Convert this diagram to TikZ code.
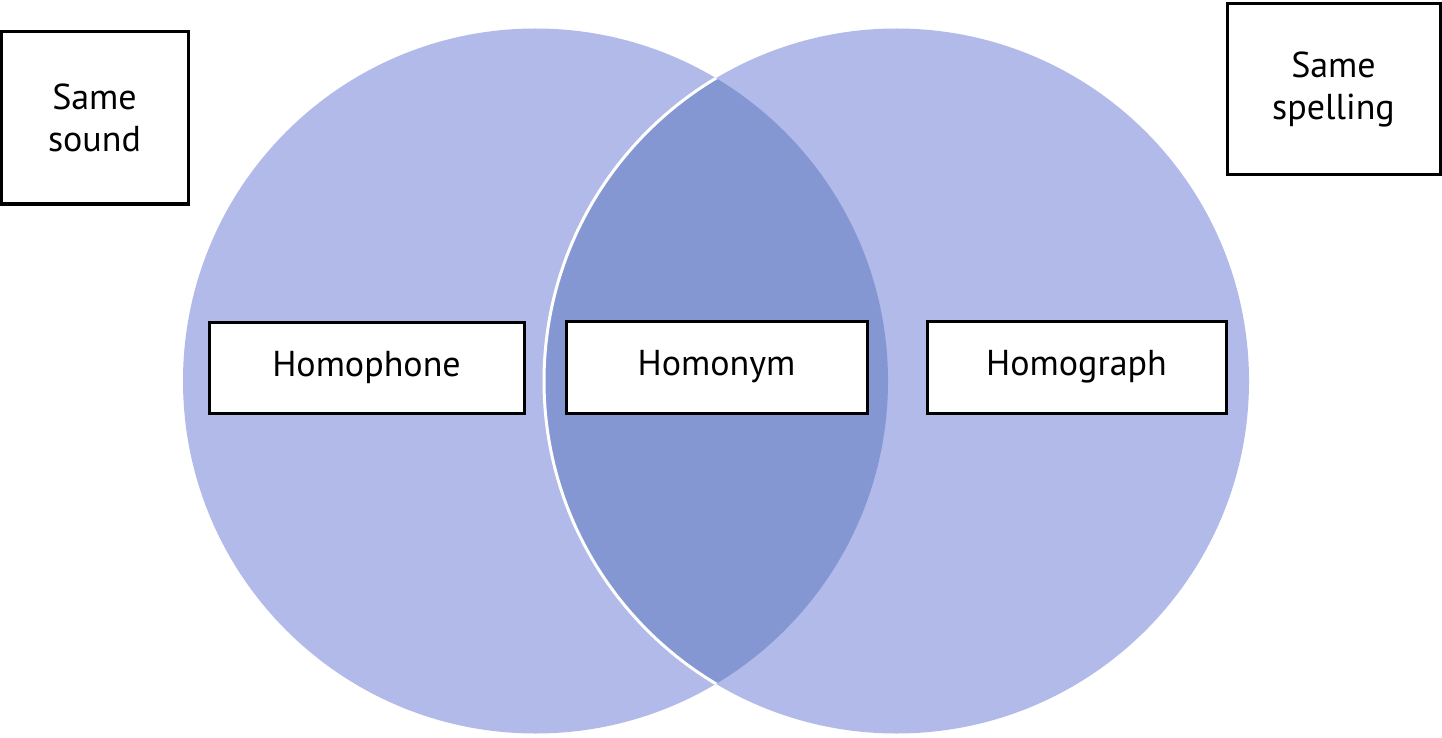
\documentclass[tikz,border=0pt]{standalone}
\usepackage{fontspec}
\setmainfont{PT Sans}
\definecolor{lightfill}{RGB}{177,186,232}
\definecolor{darkfill}{RGB}{133,151,211}
\tikzset{
  labelbox/.style={draw=black, line width=3pt, fill=white, inner sep=0pt,
    font=\fontsize{36}{42}\selectfont, align=center}
}
\begin{document}
\begin{tikzpicture}[x=1pt,y=-1pt]
\useasboundingbox (0,0) rectangle (1442,738);
% circles
\fill[lightfill] (535.5,381) circle (352.5pt);
\fill[lightfill] (896.5,381) circle (352.5pt);
\begin{scope}
  \clip (535.5,381) circle (352.5pt);
  \fill[darkfill] (896.5,381) circle (352.5pt);
  \draw[white, line width=3pt] (896.5,381) circle (352.5pt);
\end{scope}
% boxes
\node[labelbox, minimum width=187pt, minimum height=172pt] (sound) at (94.5,118) {Same\\sound};
\node[labelbox, minimum width=213pt, minimum height=171pt] (spelling) at (1333.5,89.5) {Same\\spelling};
\node[labelbox, minimum width=315pt, minimum height=91pt] (homophone) at (366.5,367.5) {\raisebox{-2pt}{Homophone}};
\node[labelbox, minimum width=301pt, minimum height=92pt] (homonym) at (716.5,367) {\raisebox{-2pt}{Homonym}};
\node[labelbox, minimum width=299pt, minimum height=92pt] (homograph) at (1076.5,367) {\raisebox{-2pt}{Homograph}};
\end{tikzpicture}
\end{document}
